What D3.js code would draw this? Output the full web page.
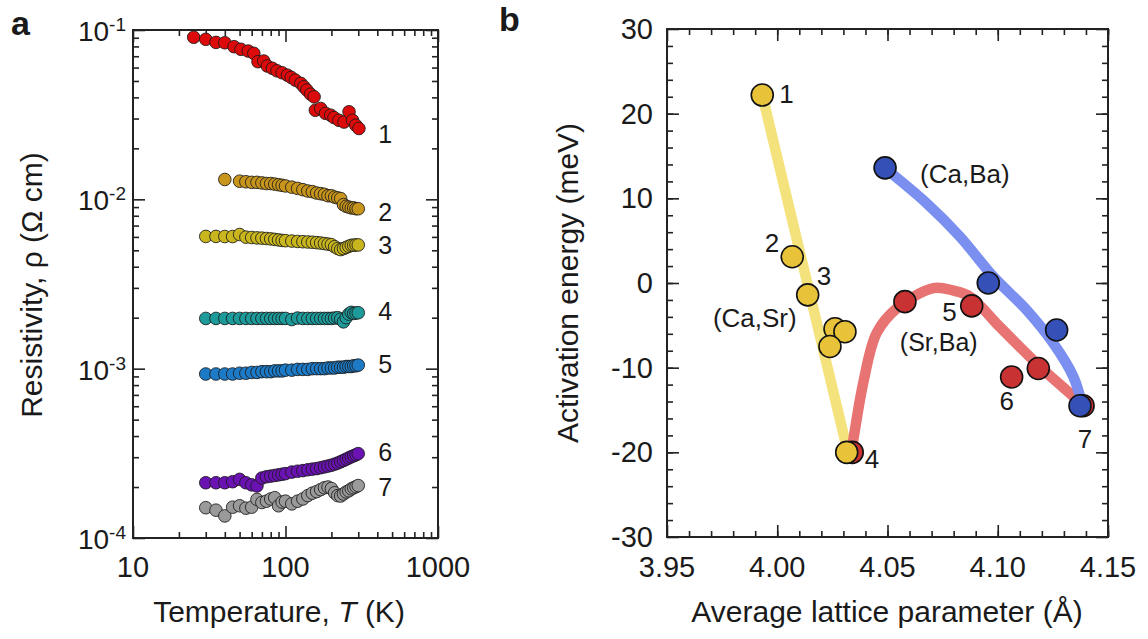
<!DOCTYPE html>
<html>
<head>
<meta charset="utf-8">
<script src="https://cdn.jsdelivr.net/npm/d3@7"></script>
<style>
  body { margin: 0; background: #fff; }
  text { font-family: "Liberation Sans", Arial, sans-serif; fill: #1a1a1a; }
</style>
</head>
<body>
<svg id="chart" width="1148" height="639"></svg>
<script>
// ---------- panel a data: resistivity vs temperature ----------
const temps1 = [25, 30, 35, 40, 46, 51, 57, 62, 66, 72, 76, 82, 88, 95, 103, 109, 116, 126, 132, 138, 146, 154, 157, 170, 183, 198, 208, 224, 242, 261, 275, 289, 303];
const rho1 = [0.0906, 0.0881, 0.0845, 0.0841, 0.0797, 0.0769, 0.0751, 0.0728, 0.0650, 0.0656, 0.0613, 0.0594, 0.0574, 0.0559, 0.0541, 0.0525, 0.0506, 0.0484, 0.0462, 0.0442, 0.0418, 0.0403, 0.0336, 0.0344, 0.0322, 0.0314, 0.0304, 0.0293, 0.0286, 0.0329, 0.0293, 0.0274, 0.0262];

const temps2 = [40, 50, 55, 60, 65, 70, 75, 80, 85, 90, 95, 100, 110, 120, 130, 140, 150, 160, 170, 180, 190, 200, 210, 220, 230, 240, 250, 260, 270, 280, 290, 300];
const rho2 = [0.0131, 0.0128, 0.0127, 0.0126, 0.0126, 0.0125, 0.0124, 0.0124, 0.0123, 0.0122, 0.0121, 0.0120, 0.0118, 0.0116, 0.0114, 0.0112, 0.0111, 0.0109, 0.0108, 0.0107, 0.0105, 0.0105, 0.0103, 0.0102, 0.0101, 0.0093, 0.0091, 0.0090, 0.0089, 0.0089, 0.0088, 0.0088];

// shared temperature grid for samples 3-7
const temps = [30, 35, 40, 45, 50, 55, 60, 65, 70, 75, 80, 85, 90, 95, 100, 110, 120, 130, 140, 150, 160, 170, 180, 190, 200, 210, 220, 230, 240, 250, 260, 270, 280, 290, 300];
const rho3 = [0.00604, 0.00604, 0.00603, 0.00603, 0.00620, 0.00598, 0.00595, 0.00592, 0.00590, 0.00587, 0.00584, 0.00580, 0.00576, 0.00572, 0.00570, 0.00567, 0.00564, 0.00562, 0.00560, 0.00558, 0.00555, 0.00552, 0.00548, 0.00544, 0.00540, 0.00525, 0.00512, 0.00505, 0.00512, 0.00520, 0.00528, 0.00535, 0.00536, 0.00538, 0.00538];
const rho4 = [0.00198, 0.00198, 0.00198, 0.00198, 0.00198, 0.00198, 0.00198, 0.00198, 0.00198, 0.00198, 0.00198, 0.00198, 0.00198, 0.00198, 0.00198, 0.00195, 0.00199, 0.00198, 0.00198, 0.00198, 0.00198, 0.00198, 0.00198, 0.00198, 0.00198, 0.00199, 0.00200, 0.00196, 0.00189, 0.00200, 0.00210, 0.00215, 0.00212, 0.00213, 0.00214];
const rho5 = [0.00093, 0.00093, 0.00093, 0.00093, 0.00094, 0.00094, 0.00095, 0.00095, 0.00096, 0.00096, 0.00096, 0.00097, 0.00097, 0.00097, 0.00098, 0.00098, 0.00099, 0.00099, 0.00099, 0.00100, 0.00100, 0.00100, 0.00100, 0.00101, 0.00101, 0.00101, 0.00102, 0.00102, 0.00102, 0.00103, 0.00103, 0.00103, 0.00104, 0.00104, 0.00105];
const rho6 = [0.000212, 0.000212, 0.000212, 0.000215, 0.000222, 0.000212, 0.000206, 0.000203, 0.000226, 0.000230, 0.000232, 0.000234, 0.000236, 0.000238, 0.000240, 0.000245, 0.000248, 0.000250, 0.000253, 0.000255, 0.000257, 0.000260, 0.000263, 0.000266, 0.000269, 0.000273, 0.000277, 0.000282, 0.000287, 0.000292, 0.000297, 0.000302, 0.000306, 0.000310, 0.000315];
const rho7 = [0.000151, 0.000146, 0.000135, 0.000152, 0.000155, 0.000150, 0.000152, 0.000169, 0.000162, 0.000165, 0.000170, 0.000173, 0.000155, 0.000163, 0.000165, 0.000159, 0.000165, 0.000170, 0.000178, 0.000184, 0.000188, 0.000193, 0.000198, 0.000200, 0.000196, 0.000185, 0.000178, 0.000177, 0.000182, 0.000187, 0.000190, 0.000195, 0.000198, 0.000201, 0.000204];

const sampleNames = ["1", "2", "3", "4", "5", "6", "7"];
const sampleColors = ["#dc0a0a", "#c8951c", "#c9b61e", "#1d9a9a", "#1c7ac6", "#6a12b2", "#9a9a9a"];
const sampleLabelRho = [0.0243, 0.00838, 0.00535, 0.0022, 0.00107, 0.000323, 0.0002];

// ---------- panel b data: activation energy vs lattice parameter ----------
const caSrX = [3.9932, 4.0068, 4.0138, 4.0262, 4.0307, 4.0239, 4.0315];
const caSrY = [22.2, 3.1, -1.4, -5.4, -5.75, -7.5, -20.0];
const srBaX = [4.0340, 4.0579, 4.0882, 4.1063, 4.1184, 4.1387];
const srBaY = [-20.0, -2.2, -2.7, -11.1, -10.1, -14.5];
const caBaX = [4.0489, 4.0957, 4.1267, 4.1373];
const caBaY = [13.6, 0.0, -5.55, -14.5];

// guide curves
const caSrLineX = [3.9932, 4.0320];
const caSrLineY = [22.2, -20.0];
const srBaLineX = [4.0334, 4.0345, 4.0390, 4.0451, 4.0542, 4.0708, 4.0800, 4.0874, 4.1010, 4.1192, 4.1343, 4.1385];
const srBaLineY = [-20.1, -18.5, -11.8, -5.9, -3.0, -0.6, -0.9, -1.6, -5.2, -9.9, -13.4, -14.5];
const caBaLineX = [4.0489, 4.0678, 4.0829, 4.0980, 4.1131, 4.1252, 4.1343, 4.1381];
const caBaLineY = [13.55, 9.41, 5.47, 0.75, -3.19, -7.12, -11.07, -14.2];

const xTicksB = [3.95, 4.00, 4.05, 4.10, 4.15];
const yTicksB = [30, 20, 10, 0, -10, -20, -30];

const svg = d3.select("#chart");

// draws inward ticks on all four sides of a frame
function frameTicks(g, x, y, box, xMajor, xMinor, yMajor, yMinor) {
  const sides = [
    [d3.axisBottom, x, xMajor, xMinor, "translate(0," + box.bottom + ")"],
    [d3.axisTop, x, xMajor, xMinor, "translate(0," + box.top + ")"],
    [d3.axisLeft, y, yMajor, yMinor, "translate(" + box.left + ",0)"],
    [d3.axisRight, y, yMajor, yMinor, "translate(" + box.right + ",0)"]
  ];
  sides.forEach(function(s) {
    [[s[2], 12], [s[3], 6]].forEach(function(t) {
      g.append("g")
        .attr("transform", s[4])
        .call(s[0](s[1]).tickValues(t[0]).tickSize(-t[1]).tickFormat(""))
        .call(function(a) { a.select(".domain").remove(); })
        .selectAll("line")
        .attr("stroke", "#222")
        .attr("stroke-width", 1.6);
    });
  });
  g.append("rect")
    .attr("x", box.left).attr("y", box.top)
    .attr("width", box.right - box.left).attr("height", box.bottom - box.top)
    .attr("fill", "none").attr("stroke", "#222").attr("stroke-width", 2);
}

// ---------- panel a ----------
const boxA = { left: 133, right: 438, top: 30, bottom: 538 };
const xA = d3.scaleLog().domain([10, 1000]).range([boxA.left, boxA.right]);
const yA = d3.scaleLog().domain([1e-4, 1e-1]).range([boxA.bottom, boxA.top]);

const gA = svg.append("g");
const xMinorA = [20, 30, 40, 50, 60, 70, 80, 90, 200, 300, 400, 500, 600, 700, 800, 900];
const yMinorA = [];
[1e-4, 1e-3, 1e-2].forEach(function(d) {
  [2, 3, 4, 5, 6, 7, 8, 9].forEach(function(m) { yMinorA.push(d * m); });
});
frameTicks(gA, xA, yA, boxA, [10, 100, 1000], xMinorA, [1e-4, 1e-3, 1e-2, 1e-1], yMinorA);

const seriesA = [
  [temps1, rho1], [temps2, rho2], [temps, rho3], [temps, rho4],
  [temps, rho5], [temps, rho6], [temps, rho7]
];
seriesA.slice().reverse().forEach(function(s, ri) {
  const i = seriesA.length - 1 - ri;
  gA.append("g")
    .selectAll("circle")
    .data(s[0].map(function(t, j) { return [t, s[1][j]]; }))
    .enter()
    .append("circle")
    .attr("cx", function(d) { return xA(d[0]); })
    .attr("cy", function(d) { return yA(d[1]); })
    .attr("r", 6.3)
    .attr("fill", sampleColors[i])
    .attr("stroke", "#1a1a1a")
    .attr("stroke-opacity", 0.85)
    .attr("stroke-width", 1);
});

gA.selectAll(".sample-label")
  .data(sampleNames)
  .enter()
  .append("text")
  .attr("x", xA(300) + 20)
  .attr("y", function(d, i) { return yA(sampleLabelRho[i]); })
  .attr("dy", "0.36em")
  .attr("font-size", 25)
  .text(function(d) { return d; });

gA.selectAll(".xtick")
  .data([10, 100, 1000])
  .enter()
  .append("text")
  .attr("x", function(d) { return xA(d); })
  .attr("y", 577)
  .attr("text-anchor", "middle")
  .attr("font-size", 29)
  .text(function(d) { return d; });

gA.selectAll(".ytick")
  .data([-1, -2, -3, -4])
  .enter()
  .append("text")
  .attr("x", 126)
  .attr("y", function(d) { return yA(Math.pow(10, d)) + 11; })
  .attr("text-anchor", "end")
  .attr("font-size", 28)
  .each(function(d) {
    const t = d3.select(this);
    t.append("tspan").text("10");
    t.append("tspan").attr("dy", -10).attr("font-size", 19).text(String(d));
  });

const titleA = gA.append("text")
  .attr("x", 279).attr("y", 622)
  .attr("text-anchor", "middle").attr("font-size", 30);
titleA.append("tspan").text("Temperature, ");
titleA.append("tspan").attr("font-style", "italic").text("T");
titleA.append("tspan").text(" (K)");

gA.append("text")
  .attr("transform", "translate(42,285) rotate(-90)")
  .attr("text-anchor", "middle").attr("font-size", 30)
  .text("Resistivity, \u03c1 (\u03a9 cm)");

svg.append("text").attr("x", 11).attr("y", 35)
  .attr("font-size", 34).attr("font-weight", "bold").text("a");

// ---------- panel b ----------
const boxB = { left: 667, right: 1108, top: 29, bottom: 537 };
const xB = d3.scaleLinear().domain([3.95, 4.15]).range([boxB.left, boxB.right]);
const yB = d3.scaleLinear().domain([-30, 30]).range([boxB.bottom, boxB.top]);

const gB = svg.append("g");
frameTicks(gB, xB, yB, boxB, xTicksB, d3.range(3.96, 4.15, 0.01),
  yTicksB, d3.range(-28, 30, 2));

const curve = d3.line()
  .x(function(d) { return xB(d[0]); })
  .y(function(d) { return yB(d[1]); })
  .curve(d3.curveCatmullRom.alpha(0.5));

function zip(a, b) { return a.map(function(v, i) { return [v, b[i]]; }); }

[[caSrLineX, caSrLineY, "#f4e27c"], [srBaLineX, srBaLineY, "#e87373"], [caBaLineX, caBaLineY, "#7a8ff0"]]
  .forEach(function(c) {
    gB.append("path")
      .attr("d", curve(zip(c[0], c[1])))
      .attr("fill", "none")
      .attr("stroke", c[2])
      .attr("stroke-width", 10.5)
      .attr("stroke-linecap", "round");
  });

[[srBaX, srBaY, "#c83232"], [caSrX, caSrY, "#e8c33a"], [caBaX, caBaY, "#3550b6"]]
  .forEach(function(p) {
    gB.append("g")
      .selectAll("circle")
      .data(zip(p[0], p[1]))
      .enter()
      .append("circle")
      .attr("cx", function(d) { return xB(d[0]); })
      .attr("cy", function(d) { return yB(d[1]); })
      .attr("r", 11)
      .attr("fill", p[2])
      .attr("stroke", "#111")
      .attr("stroke-width", 1.6);
  });

// annotations: text, anchor point, pixel offset, anchor, size
const notesB = [
  ["1", caSrX[0], caSrY[0], 17, 8, "start", 26],
  ["2", caSrX[1], caSrY[1], -13, -5, "end", 26],
  ["3", caSrX[2], caSrY[2], 9, -10, "start", 26],
  ["(Ca,Sr)", caSrX[2], caSrY[2], -11, 32, "end", 26],
  ["4", caSrX[6], caSrY[6], 18, 16, "start", 26],
  ["5", srBaX[2], srBaY[2], -15, 15, "end", 26],
  ["(Sr,Ba)", srBaX[2], srBaY[2], -33, 45, "middle", 25],
  ["6", srBaX[3], srBaY[3], -5, 33, "middle", 26],
  ["7", caBaX[3], caBaY[3], 5, 42, "middle", 26],
  ["(Ca,Ba)", caBaX[0], caBaY[0], 35, 15, "start", 26]
];
gB.selectAll(".note")
  .data(notesB)
  .enter()
  .append("text")
  .attr("x", function(d) { return xB(d[1]) + d[3]; })
  .attr("y", function(d) { return yB(d[2]) + d[4]; })
  .attr("text-anchor", function(d) { return d[5]; })
  .attr("font-size", function(d) { return d[6]; })
  .text(function(d) { return d[0]; });

gB.selectAll(".xtick")
  .data(xTicksB)
  .enter()
  .append("text")
  .attr("x", function(d) { return xB(d); })
  .attr("y", 577)
  .attr("text-anchor", "middle")
  .attr("font-size", 29)
  .text(function(d) { return d.toFixed(2); });

gB.selectAll(".ytick")
  .data(yTicksB)
  .enter()
  .append("text")
  .attr("x", 653)
  .attr("y", function(d) { return yB(d) + 10; })
  .attr("text-anchor", "end")
  .attr("font-size", 29)
  .text(function(d) { return d; });

gB.append("text")
  .attr("x", 887).attr("y", 622)
  .attr("text-anchor", "middle").attr("font-size", 30)
  .text("Average lattice parameter (\u00c5)");

gB.append("text")
  .attr("transform", "translate(578,283) rotate(-90)")
  .attr("text-anchor", "middle").attr("font-size", 30)
  .text("Activation energy (meV)");

svg.append("text").attr("x", 499).attr("y", 31)
  .attr("font-size", 34).attr("font-weight", "bold").text("b");
</script>
</body>
</html>
